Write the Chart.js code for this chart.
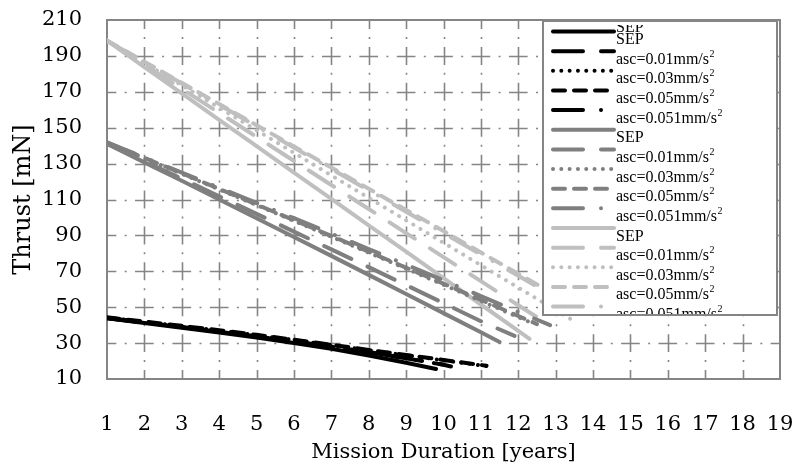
<!DOCTYPE html>
<html>
<head>
<meta charset="utf-8">
<script src="https://cdn.jsdelivr.net/npm/chart.js@4.4.0/dist/chart.umd.min.js"></script>
<style>
  html, body { margin: 0; padding: 0; background: #ffffff; }
  #wrap { width: 796px; height: 468px; }
</style>
</head>
<body>
<div id="wrap"><canvas id="chart" width="796" height="468"></canvas></div>
<script>
// Thrust [mN] against mission duration [years] for three thrust classes,
// each with a plain SEP case and four ascent-acceleration cases.

const seriesLabels = ['SEP', 'asc=0.01mm/s²', 'asc=0.03mm/s²', 'asc=0.05mm/s²', 'asc=0.051mm/s²'];
const groupColors = ['#000000', '#7f7f7f', '#bfbfbf'];

// low-thrust class
const lowSepYears   = [1, 2, 3, 4, 5, 6, 7, 8, 9, 9.8];
const lowSepThrust  = [43.8, 41.2, 38.6, 35.9, 33.1, 30.1, 26.8, 23.1, 19.1, 15.6];
const low001Years   = [1, 2, 3, 4, 5, 6, 7, 8, 9, 10];
const low001Thrust  = [43.9, 41.4, 38.9, 36.3, 33.6, 30.8, 27.9, 24.8, 21.5, 18.0];
const low003Years   = [1, 2, 3, 4, 5, 6, 7, 8, 9, 10, 11, 11.2];
const low003Thrust  = [44.2, 41.8, 39.4, 37.0, 34.4, 31.7, 28.9, 26.0, 23.2, 20.4, 17.6, 17.1];
const low005Years   = [1, 2, 3, 4, 5, 6, 7, 8, 9, 10, 11, 11.15];
const low005Thrust  = [44.4, 42.0, 39.6, 37.2, 34.6, 31.9, 29.1, 26.2, 23.4, 20.6, 17.8, 17.4];
const low0051Years  = [1, 2, 3, 4, 5, 6, 7, 8, 9, 10, 10.2];
const low0051Thrust = [44.0, 41.5, 39.0, 36.4, 33.7, 30.9, 28.0, 25.0, 21.6, 17.9, 17.0];

// mid-thrust class
const midSepYears   = [1, 2, 3, 4, 5, 6, 7, 8, 9, 10, 11, 11.5];
const midSepThrust  = [141.0, 130.7, 120.4, 110.0, 99.6, 89.1, 78.6, 68.0, 57.4, 46.7, 36.0, 30.6];
const mid001Years   = [1, 2, 3, 4, 5, 6, 7, 8, 9, 10, 11, 11.9];
const mid001Thrust  = [141.0, 131.3, 121.6, 111.8, 102.0, 92.1, 82.2, 72.3, 62.3, 52.3, 42.2, 34.0];
const mid003Years   = [1, 2, 3, 4, 5, 6, 7, 8, 9, 10, 11, 12, 12.3];
const mid003Thrust  = [141.5, 132.9, 124.3, 115.6, 106.9, 98.1, 89.3, 80.4, 71.5, 62.5, 53.5, 44.5, 41.8];
const mid005Years   = [1, 2, 3, 4, 5, 6, 7, 8, 9, 10, 11, 12, 12.5];
const mid005Thrust  = [141.8, 133.2, 124.6, 115.9, 107.2, 98.5, 89.7, 80.9, 72.0, 63.1, 54.1, 45.1, 40.6];
const mid0051Years  = [1, 2, 3, 4, 5, 6, 7, 8, 9, 10, 11, 12, 12.85];
const mid0051Thrust = [141.8, 133.4, 125.0, 116.6, 108.1, 99.6, 91.0, 82.4, 73.7, 65.0, 56.2, 47.4, 40.0];

// high-thrust class
const highSepYears   = [1, 2, 3, 4, 5, 6, 7, 8, 9, 10, 11, 12, 12.3];
const highSepThrust  = [198.5, 183.8, 169.1, 154.4, 139.7, 125.0, 110.3, 95.6, 80.9, 66.2, 51.5, 36.8, 32.4];
const high001Years   = [1, 2, 3, 4, 5, 6, 7, 8, 9, 10, 11, 12, 12.6];
const high001Thrust  = [198.5, 185.1, 171.7, 158.3, 144.9, 131.5, 118.1, 104.7, 91.3, 77.9, 64.5, 51.1, 43.1];
const high003Years   = [1, 2, 3, 4, 5, 6, 7, 8, 9, 10, 11, 12, 13, 13.45];
const high003Thrust  = [198.5, 186.1, 173.6, 161.1, 148.6, 136.0, 123.4, 110.9, 98.4, 85.9, 73.4, 60.9, 48.4, 42.8];
const high005Years   = [1, 2, 3, 4, 5, 6, 7, 8, 9, 10, 11, 12, 13, 13.8];
const high005Thrust  = [198.6, 186.8, 175.0, 163.2, 151.4, 139.6, 127.8, 116.0, 104.2, 92.4, 80.5, 68.6, 56.7, 47.2];
const high0051Years  = [1, 2, 3, 4, 5, 6, 7, 8, 9, 10, 11, 12, 13, 13.6];
const high0051Thrust = [198.4, 186.5, 174.6, 162.7, 150.8, 138.9, 127.0, 115.1, 103.2, 91.3, 79.4, 67.5, 55.6, 48.5];

// axis ranges and tick steps
const yearMin = 1, yearMax = 19, yearStep = 1;
const thrustMin = 10, thrustMax = 210, thrustStep = 20;

const groups = [
  [[lowSepYears, lowSepThrust], [low001Years, low001Thrust], [low003Years, low003Thrust], [low005Years, low005Thrust], [low0051Years, low0051Thrust]],
  [[midSepYears, midSepThrust], [mid001Years, mid001Thrust], [mid003Years, mid003Thrust], [mid005Years, mid005Thrust], [mid0051Years, mid0051Thrust]],
  [[highSepYears, highSepThrust], [high001Years, high001Thrust], [high003Years, high003Thrust], [high005Years, high005Thrust], [high0051Years, high0051Thrust]]
];

// line style per series within a class: solid, long dash, round dot, dash, long dash-dot
const dashStyles = [[], [30, 18], [0.01, 8.3], [12, 9], [30, 18, 0.01, 18]];
const LINE_W = 4;

const datasets = [];
groups.forEach((grp, g) => {
  grp.forEach(([xs, ys], s) => {
    datasets.push({
      label: seriesLabels[s],
      data: xs.map((x, i) => ({ x: x, y: ys[i] })),
      borderColor: groupColors[g],
      backgroundColor: groupColors[g],
      borderWidth: LINE_W,
      borderDash: dashStyles[s],
      borderCapStyle: 'round',
      borderJoinStyle: 'round',
      pointRadius: 0,
      pointHoverRadius: 0,
      tension: 0,
      fill: false
    });
  });
});

const GRID = '#858585';

// dash-dot grid lines, one dash centred on every crossing, plus the plot frame
const gridPlugin = {
  id: 'dashDotGrid',
  beforeDatasetsDraw(chart) {
    const { ctx, chartArea: a, scales } = chart;
    const xs = scales.x, ys = scales.y;
    const cellW = xs.getPixelForValue(yearMin + yearStep) - xs.getPixelForValue(yearMin);
    const cellH = ys.getPixelForValue(thrustMin) - ys.getPixelForValue(thrustMin + thrustStep);
    ctx.save();
    ctx.strokeStyle = GRID;
    ctx.lineWidth = 1.6;
    ctx.lineCap = 'butt';
    // horizontal
    const dh = cellW * 0.5, gh = (cellW - dh - 2) / 2;
    ctx.setLineDash([dh, gh, 2, gh]);
    ctx.lineDashOffset = dh / 2;
    for (let v = thrustMin + thrustStep; v < thrustMax; v += thrustStep) {
      const y = Math.round(ys.getPixelForValue(v)) + 0.5;
      ctx.beginPath(); ctx.moveTo(a.left, y); ctx.lineTo(a.right, y); ctx.stroke();
    }
    // vertical
    const dv = cellH * 0.5, gv = (cellH - dv - 2) / 2;
    ctx.setLineDash([dv, gv, 2, gv]);
    ctx.lineDashOffset = dv / 2;
    for (let v = yearMin + yearStep; v < yearMax; v += yearStep) {
      const x = Math.round(xs.getPixelForValue(v)) + 0.5;
      ctx.beginPath(); ctx.moveTo(x, a.top); ctx.lineTo(x, a.bottom); ctx.stroke();
    }
    ctx.setLineDash([]);
    ctx.lineWidth = 2;
    ctx.strokeRect(a.left, a.top, a.right - a.left, a.bottom - a.top);
    ctx.restore();
  }
};

// legend box drawn over the upper right of the plot
const legendPlugin = {
  id: 'boxLegend',
  afterDatasetsDraw(chart) {
    const { ctx } = chart;
    const bx = 543, by = 21, bw = 234, bh = 294;
    const rowH = 19.65, firstRow = 31.5;
    const sx0 = 553, sx1 = 614, tx = 616;
    ctx.save();
    ctx.fillStyle = '#ffffff';
    ctx.fillRect(bx, by, bw, bh);
    ctx.beginPath();
    ctx.rect(bx, by, bw, bh);
    ctx.clip();
    ctx.font = '16px "Liberation Serif", "Times New Roman", serif';
    ctx.textBaseline = 'alphabetic';
    ctx.fillStyle = '#000000';
    // partly hidden label above the first row
    ctx.save();
    ctx.beginPath(); ctx.rect(bx, 25, bw, 20); ctx.clip();
    ctx.fillText('SEP', tx, firstRow);
    ctx.restore();
    chart.data.datasets.forEach((ds, i) => {
      const y = firstRow + i * rowH;
      ctx.strokeStyle = ds.borderColor;
      ctx.lineWidth = LINE_W;
      ctx.lineCap = 'round';
      ctx.setLineDash(ds.borderDash);
      ctx.lineDashOffset = 0;
      ctx.beginPath(); ctx.moveTo(sx0, y); ctx.lineTo(sx1, y); ctx.stroke();
      ctx.setLineDash([]);
      const base = y + 12.5;
      let txt = ds.label;
      const sup = txt.endsWith('²');
      if (sup) txt = txt.slice(0, -1);
      ctx.font = '16px "Liberation Serif", "Times New Roman", serif';
      ctx.fillText(txt, tx, base);
      if (sup) {
        const w = ctx.measureText(txt).width;
        ctx.font = '10px "Liberation Serif", "Times New Roman", serif';
        ctx.fillText('2', tx + w + 0.5, base - 7);
      }
    });
    ctx.restore();
    ctx.save();
    ctx.strokeStyle = GRID;
    ctx.lineWidth = 2;
    ctx.strokeRect(bx, by, bw, bh);
    ctx.restore();
  }
};

const axisFont = { family: '"DejaVu Serif", "Liberation Serif", serif', size: 21 };

new Chart(document.getElementById('chart'), {
  type: 'line',
  data: { datasets: datasets },
  options: {
    responsive: false,
    devicePixelRatio: 1,
    animation: false,
    events: [],
    layout: { padding: { top: 20, right: 16, left: 0, bottom: 0 } },
    plugins: { legend: { display: false }, tooltip: { enabled: false } },
    scales: {
      x: {
        type: 'linear',
        min: yearMin, max: yearMax,
        afterFit(scale) { scale.height = 89; scale.paddingLeft = 0; scale.paddingRight = 0; },
        ticks: { stepSize: yearStep, color: '#000', font: axisFont, padding: 33, maxRotation: 0, autoSkip: false },
        grid: { display: false, drawTicks: false },
        border: { display: false },
        title: { display: true, text: 'Mission Duration [years]', color: '#000', font: axisFont, padding: { top: 0, bottom: 3 } }
      },
      y: {
        type: 'linear',
        min: thrustMin, max: thrustMax,
        afterFit(scale) { scale.width = 107; scale.paddingTop = 0; scale.paddingBottom = 0; },
        ticks: { stepSize: thrustStep, color: '#000', font: axisFont, padding: 25 },
        grid: { display: false, drawTicks: false },
        border: { display: false },
        title: { display: true, text: 'Thrust [mN]', color: '#000', font: { family: axisFont.family, size: 24 }, padding: { top: 9, bottom: 0 } }
      }
    }
  },
  plugins: [gridPlugin, legendPlugin]
});
</script>
</body>
</html>
